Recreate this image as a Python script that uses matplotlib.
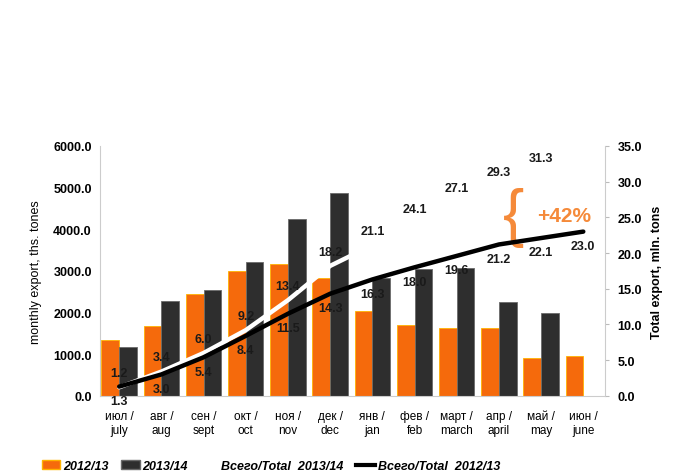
import numpy as np
import matplotlib
matplotlib.use('Agg')
import matplotlib.pyplot as plt
from matplotlib.lines import Line2D
from matplotlib.patches import Patch

plt.rcParams['font.family'] = ['Liberation Sans', 'DejaVu Sans']

months = ['июл /\njuly', 'авг /\naug', 'сен /\nsept', 'окт /\noct', 'ноя /\nnov', 'дек /\ndec',
          'янв /\njan', 'фев /\nfeb', 'март /\nmarch', 'апр /\napril', 'май /\nmay', 'июн /\njune']
export_1213 = [1340, 1670, 2440, 3000, 3170, 2840, 2030, 1710, 1620, 1620, 920, 960]
export_1314 = [1180, 2280, 2550, 3210, 4250, 4860, 2820, 3040, 3070, 2250, 2000]
total_1213 = [1.3, 3.0, 5.4, 8.4, 11.5, 14.3, 16.3, 18.0, 19.6, 21.2, 22.1, 23.0]
total_1314 = [1.2, 3.4, 6.0, 9.2, 13.4, 18.2, 21.1, 24.1, 27.1, 29.3, 31.3]

orange = '#F56A0C'
dark = '#2E2E2E'

fig = plt.figure(figsize=(6.77, 4.77), dpi=100)
ax = fig.add_axes([0.148, 0.168, 0.746, 0.524])
ax2 = ax.twinx()

x = np.arange(len(months))
w = 0.42
ax.bar(x[:len(export_1213)] - w / 2, export_1213, width=w, color=orange, edgecolor='#FFB300', linewidth=0.6, zorder=2)
ax.bar(x[:len(export_1314)] + w / 2, export_1314, width=w, color=dark, edgecolor='#6a6a6a', linewidth=0.6, zorder=2)

ax.set_ylim(0, 6000)
ax.set_yticks(np.arange(0, 6001, 1000))
ax.set_yticklabels([f'{v:.1f}' for v in np.arange(0, 6001, 1000)], fontweight='bold', fontsize=9)
ax.set_xlim(-0.45, 11.52)
ax.set_xticks(x)
ax.set_xticklabels(months, fontsize=8.5, family=['Liberation Sans Narrow', 'Liberation Sans'], linespacing=1.25)
ax.tick_params(axis='x', length=0, pad=10)
ax.tick_params(axis='y', length=0, pad=6)
ax.set_ylabel('monthly export, ths. tones', fontsize=9, labelpad=8)
for s in ['top', 'right']:
    ax.spines[s].set_visible(False)
ax.spines['left'].set_color('#cccccc')
ax.spines['bottom'].set_color('#cccccc')

ax2.set_ylim(0, 35)
ax2.set_yticks(np.arange(0, 36, 5))
ax2.set_yticklabels([f'{v:.1f}' for v in np.arange(0, 36, 5)], fontweight='bold', fontsize=9)
ax2.tick_params(axis='y', length=3, color='#bbbbbb', pad=6)
ax2.set_ylabel('Total export, mln. tons', fontsize=9, fontweight='bold', labelpad=6)
for s in ['top', 'left', 'bottom']:
    ax2.spines[s].set_visible(False)
ax2.spines['right'].set_color('#cccccc')

ax2.plot(x[:len(total_1314)], total_1314, color='white', lw=3.2, solid_capstyle='round', zorder=3)
ax2.plot(x[:len(total_1213)], total_1213, color='black', lw=3.2, solid_capstyle='round', zorder=4)

for i, v in enumerate(total_1314):
    ax2.annotate(f'{v:.1f}', (x[i], v), xytext=(0, 6), textcoords='offset points',
                 ha='center', va='bottom', fontsize=9, fontweight='bold', color='#1a1a1a', zorder=5)
for i, v in enumerate(total_1213):
    ax2.annotate(f'{v:.1f}', (x[i], v), xytext=(0, -6), textcoords='offset points',
                 ha='center', va='top', fontsize=9, fontweight='bold', color='#1a1a1a', zorder=5,
                 annotation_clip=False)

# скобка и +42%
ax2.text(9.34, 25.0, '{', fontsize=46, color='#F58A3A', ha='center', va='center', fontweight='light')
ax2.text(10.55, 25.3, '+42%', fontsize=15, color='#F58A3A', ha='center', va='center', fontweight='bold')

handles = [Patch(facecolor=orange, edgecolor='#FFB300'),
           Patch(facecolor=dark, edgecolor='#6a6a6a'),
           Line2D([0], [0], color='white', lw=3),
           Line2D([0], [0], color='black', lw=3)]
labels = ['2012/13', '2013/14', 'Всего/Total  2013/14', 'Всего/Total  2012/13']
fig.legend(handles, labels, loc='lower center', bbox_to_anchor=(0.4, -0.015), ncol=4, frameon=False,
           prop={'style': 'italic', 'weight': 'bold', 'size': 9}, handlelength=1.5,
           handletextpad=0.2, columnspacing=1.0)

fig.savefig('out.png', dpi=100)
